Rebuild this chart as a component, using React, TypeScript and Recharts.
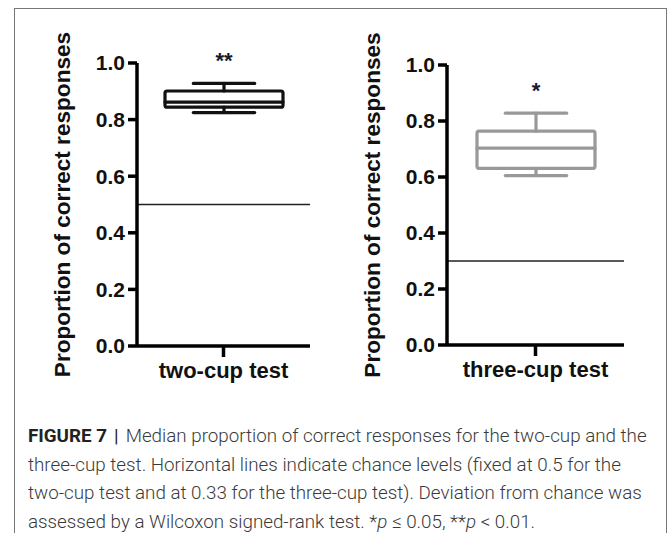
import { ComposedChart, Bar, XAxis, YAxis, ReferenceLine, LabelList } from 'recharts'

// box plot summary, one entry per test
const tests = ['two-cup test', 'three-cup test']
const whiskerLow = [0.825, 0.605]
const quartile1 = [0.844, 0.631]
const medians = [0.862, 0.703]
const quartile3 = [0.901, 0.764]
const whiskerHigh = [0.928, 0.828]
const chanceLevels = [0.5, 0.3]
const stars = ['**', '*']
const boxColors = ['#111', '#999']
const yTicks = [0, 0.2, 0.4, 0.6, 0.8, 1.0]

const font = 'Liberation Sans, Arial, sans-serif'
const AXIS_TITLE = 'Proportion of correct responses'

function BoxShape(props: any) {
  const { x, y, width, height, payload, color } = props
  const top = Math.min(y, y + height)
  const h = Math.abs(height)
  const { low, q1, median, q3, high } = payload
  const py = (v: number) => top + (h * (high - v)) / (high - low)
  const cx = x + width / 2
  const cap = width * 0.26
  const sw = 3.2
  return (
    <g stroke={color} strokeWidth={sw} fill="none" strokeLinecap="round">
      <line x1={cx - cap} x2={cx + cap} y1={py(high)} y2={py(high)} />
      <line x1={cx} x2={cx} y1={py(high)} y2={py(q3)} />
      <rect x={x} y={py(q3)} width={width} height={py(q1) - py(q3)} rx={2} />
      <line x1={x} x2={x + width} y1={py(median)} y2={py(median)} />
      <line x1={cx} x2={cx} y1={py(q1)} y2={py(low)} />
      <line x1={cx - cap} x2={cx + cap} y1={py(low)} y2={py(low)} />
    </g>
  )
}

function YTitle(props: any) {
  const vb = props.viewBox
  const tx = vb.x + vb.width - 67
  const ty = vb.y + vb.height / 2
  return (
    <text
      x={tx}
      y={ty}
      transform={`rotate(-90 ${tx} ${ty})`}
      textAnchor="middle"
      fontFamily={font}
      fontWeight="bold"
      fontSize={22.6}
      fill="#111"
    >
      {AXIS_TITLE}
    </text>
  )
}

function BoxChart({ i, top, bottom, right }: { i: number; top: number; bottom: number; right: number }) {
  const data = [
    {
      name: tests[i],
      low: whiskerLow[i],
      q1: quartile1[i],
      median: medians[i],
      q3: quartile3[i],
      high: whiskerHigh[i],
      star: stars[i],
    },
  ]
  const tickStyle = { fill: '#111', fontSize: 21, fontWeight: 'bold', fontFamily: font }
  return (
    <ComposedChart width={330} height={400} data={data} margin={{ top, right, bottom: 0, left: 0 }}>
      <XAxis
        dataKey="name"
        height={400 - bottom}
        tickSize={11}
        tickMargin={5}
        axisLine={{ stroke: '#000', strokeWidth: 3.5 }}
        tickLine={{ stroke: '#000', strokeWidth: 3.5 }}
        tick={{ ...tickStyle, fontSize: 22 }}
      />
      <YAxis
        domain={[0, 1]}
        ticks={yTicks}
        tickFormatter={(v: number) => v.toFixed(1)}
        width={137}
        tickSize={9}
        tickMargin={3}
        axisLine={{ stroke: '#000', strokeWidth: 3.5 }}
        tickLine={{ stroke: '#000', strokeWidth: 3.5 }}
        tick={tickStyle}
        label={{ content: (p: any) => <YTitle {...p} /> }}
      />
      <ReferenceLine y={chanceLevels[i]} stroke="#222" strokeWidth={1.5} />
      <Bar
        dataKey={(d: any) => [d.low, d.high]}
        barSize={118}
        isAnimationActive={false}
        shape={(p: any) => <BoxShape {...p} color={boxColors[i]} />}
      >
        <LabelList
          dataKey="star"
          position="top"
          offset={15}
          fill="#1a1a2a"
          fontSize={22}
          fontWeight="bold"
          fontFamily={font}
        />
      </Bar>
    </ComposedChart>
  )
}

export default function App() {
  return (
    <div
      style={{
        position: 'fixed',
        left: 0,
        top: 0,
        width: 668,
        height: 533,
        overflow: 'hidden',
        background: '#fff',
      }}
    >
      <div
        style={{
          position: 'absolute',
          left: 14,
          top: 8,
          width: 651,
          height: 560,
          border: '1.5px solid #777',
        }}
      />
      <div style={{ position: 'absolute', left: 0, top: 0 }}>
        <BoxChart i={0} top={63} bottom={346} right={20} />
      </div>
      <div style={{ position: 'absolute', left: 310, top: 0 }}>
        <BoxChart i={1} top={65} bottom={345} right={16} />
      </div>
      <div
        style={{
          position: 'absolute',
          left: 28,
          top: 422,
          fontFamily: 'Roboto, sans-serif',
          fontWeight: 300,
          fontSize: 18.8,
          lineHeight: '28.5px',
          color: '#3a3a3a',
          whiteSpace: 'nowrap',
        }}
      >
        <span style={{ fontWeight: 700, color: '#222' }}>FIGURE 7</span>
        <span style={{ fontWeight: 400, color: '#222', margin: '0 7px' }}>|</span>
        Median proportion of correct responses for the two-cup and the
        <br />
        three-cup test. Horizontal lines indicate chance levels (fixed at 0.5 for the
        <br />
        two-cup test and at 0.33 for the three-cup test). Deviation from chance was
        <br />
        assessed by a Wilcoxon signed-rank test. *<i>p</i> ≤ 0.05, **<i>p</i> &lt; 0.01.
      </div>
    </div>
  )
}
